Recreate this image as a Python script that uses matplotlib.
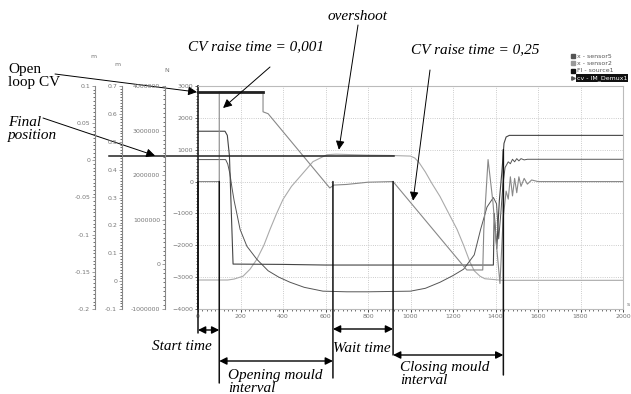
import numpy as np
import matplotlib
matplotlib.use("Agg")
import matplotlib.pyplot as plt
from matplotlib.ticker import MultipleLocator, AutoMinorLocator, FuncFormatter

# simulation traces (time in ms, value in main-axis units)
cv_t = [0, 100, 100, 306, 306, 330, 620, 640, 700, 800, 918, 1265, 1340, 1345, 1365,
        1388, 1402, 1421, 1436, 1450, 1460, 1470, 1480, 1490, 1500, 1510, 1520, 1535,
        1550, 1570, 1600, 2000]
cv_v = [0, 0, 2810, 2810, 2190, 2130, -200, -110, -90, -20, 0, -2775, -2775, -1500, 690,
        -650, -1800, -3200, -1150, -300, -550, 150, -450, 100, -350, 150, -150, 100,
        -80, 50, 0, 0]

src_t = [0, 127, 138, 148, 158, 165, 400, 600, 1000, 1390, 1394, 1406, 1418, 1430,
         1440, 1450, 1465, 2000]
src_v = [1580, 1580, 1450, 800, -1200, -2590, -2600, -2620, -2620, -2620, -1000, -2100,
         -600, 300, 1200, 1400, 1450, 1450]

s5_t = [0, 130, 140, 150, 160, 170, 182, 198, 230, 277, 330, 380, 433, 500, 588, 700,
        800, 900, 1000, 1070, 1139, 1200, 1250, 1300, 1330, 1360, 1390, 1405, 1415, 1425,
        1435, 1445, 1460, 1470, 1480, 1490, 1500, 1510, 1520, 1535, 1550, 2000]
s5_v = [690, 690, 550, 250, -200, -600, -980, -1500, -2030, -2440, -2800, -3000, -3160,
        -3320, -3440, -3460, -3460, -3450, -3440, -3350, -3160, -2950, -2750, -2300,
        -1500, -800, -500, -700, -1800, -1000, -100, 440, 620, 560, 700, 620, 720, 650,
        720, 680, 700, 700]

s2_t = [0, 140, 170, 212, 245, 277, 310, 339, 370, 400, 440, 480, 541, 607, 650, 700,
        800, 900, 1000, 1020, 1040, 1070, 1100, 1139, 1180, 1219, 1250, 1280, 1300, 1327,
        1350, 1400, 1430, 2000]
s2_v = [-3090, -3090, -3060, -2970, -2750, -2440, -2000, -1500, -1000, -560, -150, 156,
        625, 844, 860, 850, 830, 820, 800, 740, 600, 300, -50, -470, -1000, -1500, -2000,
        -2530, -2800, -2970, -3050, -3080, -3100, -3100]

legend_names = ["x - sensor5", "x - sensor2", "Fl - source1", "cv - IM_Demux1"]
legend_colors = ["#555555", "#999999", "#111111", "#555555"]

# extra y scales drawn left of the plot: (pixel x, low, high, step, unit)
side_scales = [(95, -0.2, 0.1, 0.05, "m"), (122, -0.1, 0.7, 0.1, "m"),
               (165, -1000000, 4000000, 1000000, "N")]

# annotation marks
event_t = [0, 100, 635, 918, 1437]
event_top = [0, 0, 0, 0, 1000]
event_bottom_px = [333, 383, 378, 355, 375]
spans = [(0, 100, 330), (100, 635, 361), (635, 918, 329), (918, 1437, 355)]
open_loop_level = 2810
open_loop_end = 306
final_pos_level = 812
final_pos_x = (-419, 920)

W, H = 631, 394
fig = plt.figure(figsize=(W / 100, H / 100), dpi=100)
bottom, height = 1 - 309 / H, 223 / H

ax = fig.add_axes([198 / W, bottom, 425 / W, height])
ax.set_xlim(0, 2000)
ax.set_ylim(-4000, 3000)
ax.xaxis.set_major_locator(MultipleLocator(200))
ax.yaxis.set_major_locator(MultipleLocator(1000))
ax.xaxis.set_minor_locator(AutoMinorLocator(10))
ax.yaxis.set_minor_locator(AutoMinorLocator(10))
ax.grid(True, ls=":", color="#bbbbbb", lw=0.6)
ax.tick_params(labelsize=4.5, labelcolor="#777777", length=2, width=0.5, pad=1.5)
ax.tick_params(which="minor", length=1.5, width=0.4)
ax.tick_params(axis="y", colors="#222222", labelcolor="#777777")
for side in ["top", "right", "bottom"]:
    ax.spines[side].set_color("#bbbbbb")
    ax.spines[side].set_linewidth(0.8)
ax.spines["left"].set_color("#222222")
ax.spines["left"].set_linewidth(1.2)

ax.plot(s2_t, s2_v, color="#aaaaaa", lw=0.8)
ax.plot(s5_t, s5_v, color="#555555", lw=0.7)
ax.plot(src_t, src_v, color="#444444", lw=0.8)
ax.plot(cv_t, cv_v, color="#888888", lw=0.8)

# open loop cv and final position guides
ax.plot([0, open_loop_end], [open_loop_level] * 2, color="#222222", lw=2, clip_on=False)
ax.plot(final_pos_x, [final_pos_level] * 2, color="#222222", lw=1.1, clip_on=False)

for t, top, bot in zip(event_t, event_top, event_bottom_px):
    ax.annotate("", xy=(t, top), xycoords="data", xytext=(t, H - bot),
                textcoords=("data", "figure pixels"),
                arrowprops=dict(arrowstyle="-", color="#111111", lw=1.1,
                                shrinkA=0, shrinkB=0))

for t0, t1, ypx in spans:
    ax.annotate("", xy=(t0, H - ypx), xycoords=("data", "figure pixels"),
                xytext=(t1, H - ypx), textcoords=("data", "figure pixels"),
                arrowprops=dict(arrowstyle="<|-|>", color="black", lw=1.0,
                                mutation_scale=11, shrinkA=0, shrinkB=0))

# pointer arrows
pointers = [((-5, 2810), (55, 74)), ((-202, 812), (43, 118)), ((118, 2310), (270, 67)),
            ((663, 1000), (358, 25)), ((1012, -600), (430, 70))]
for tip, start in pointers:
    ax.annotate("", xy=tip, xycoords="data", xytext=(start[0], H - start[1]),
                textcoords="figure pixels", annotation_clip=False,
                arrowprops=dict(arrowstyle="-|>", color="black", lw=0.7,
                                mutation_scale=13, shrinkA=0, shrinkB=0))

for xpos, lo, hi, step, unit in side_scales:
    a = fig.add_axes([xpos / W, bottom, 1e-4, height])
    a.set_ylim(lo, hi)
    a.yaxis.set_major_locator(MultipleLocator(step))
    a.yaxis.set_minor_locator(AutoMinorLocator(10))
    if unit == "N":
        a.yaxis.set_major_formatter(FuncFormatter(lambda v, p: "%d" % round(v)))
    else:
        a.yaxis.set_major_formatter(FuncFormatter(lambda v, p: format(round(v, 3) + 0.0, "g")))
    a.set_xticks([])
    a.patch.set_visible(False)
    for side in ["top", "right", "bottom"]:
        a.spines[side].set_visible(False)
    a.spines["left"].set_color("#888888")
    a.spines["left"].set_linewidth(0.8)
    a.tick_params(labelsize=4.5, labelcolor="#777777", colors="#777777",
                  length=2, width=0.5, pad=1.5)
    a.tick_params(which="minor", length=1.2, width=0.4)

for txt, x, y in [("m", 93, 57), ("m", 117, 64), ("N", 167, 71), ("s", 628, 305)]:
    fig.text(x / W, 1 - y / H, txt, fontsize=4.5, color="#777777",
             ha="center", va="center")

# legend
for i, (name, col) in enumerate(zip(legend_names, legend_colors)):
    y = 1 - (56 + i * 7.3) / H
    mk = ">" if i == 3 else "s"
    fig.lines.append(plt.Line2D([573 / W], [y], marker=mk, ms=2.5, color=col,
                                transform=fig.transFigure))
    if i == 3:
        fig.text(577 / W, y, name, fontsize=4.5, color="white", va="center",
                 bbox=dict(facecolor="#111111", edgecolor="none", pad=0.6))
    else:
        fig.text(577 / W, y, name, fontsize=4.5, color="#555555", va="center")

serif = "Liberation Serif"
notes = [("Open\nloop CV", 8, 76, "left", "normal"),
         ("Final\nposition", 8, 129, "left", "italic"),
         ("CV raise time = 0,001", 256, 47, "center", "italic"),
         ("overshoot", 358, 16, "center", "italic"),
         ("CV raise time = 0,25", 475, 50, "center", "italic"),
         ("Start time", 182, 346, "center", "italic"),
         ("Wait time", 362, 349, "center", "italic"),
         ("Opening mould\ninterval", 228, 382, "left", "italic"),
         ("Closing mould\ninterval", 400, 374, "left", "italic")]
for txt, x, y, ha, style in notes:
    fig.text(x / W, 1 - y / H, txt, fontsize=11, family=serif, style=style,
             ha=ha, va="center", linespacing=1.05)

fig.savefig("out.png", dpi=100)
